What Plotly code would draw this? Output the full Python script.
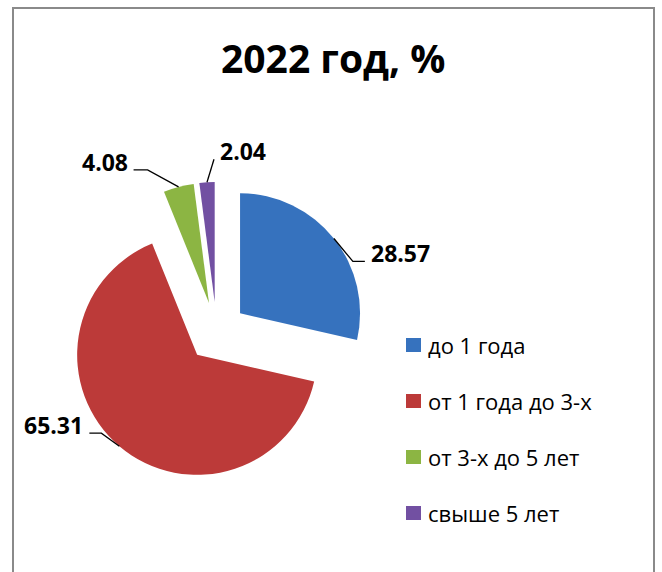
import math
import plotly.graph_objects as go

# ---- data ----
categories = ["до 1 года", "от 1 года до 3-х", "от 3-х до 5 лет", "свыше 5 лет"]
values = [28.57, 65.31, 4.08, 2.04]
value_labels = ["28.57", "65.31", "4.08", "2.04"]
title_text = "2022 год, %"

# ---- styles / layout ----
colors = ["#3672BE", "#BC3A39", "#8CB543", "#7250A2"]
W, H = 662, 572
CX, CY = 216.6, 332.0      # pie centre in page pixels
R = 120.0                  # slice radius in pixels
PULL = 0.25
HALF = R * (1 + PULL)

def px(x):
    return x / W

def py(y):
    return 1 - y / H

fig = go.Figure()
fig.add_trace(go.Pie(
    labels=categories,
    values=values,
    sort=False,
    direction="clockwise",
    rotation=0,
    pull=[PULL] * len(values),
    marker=dict(colors=colors, line=dict(width=0)),
    textinfo="none",
    hoverinfo="label+value",
    showlegend=False,
    domain=dict(x=[px(CX - HALF), px(CX + HALF)], y=[py(CY + HALF), py(CY - HALF)]),
))

# leader-line geometry (layout offsets per label): elbow dx, dy, horizontal length, text side
label_layout = [
    (19, 23, 12, "left"),
    (-18, -13, -12, "right"),
    (-31, -17, -14, "right"),
    (7, -23, 0, "left"),
]

shapes = []
annotations = []
total = sum(values)
cum = 0.0
for v, lab, (edx, edy, hl, side) in zip(values, value_labels, label_layout):
    mid = (cum + v / 2) / total * 2 * math.pi
    cum += v
    dx, dy = math.sin(mid), -math.cos(mid)
    # pulled slice centre
    sx, sy = CX + dx * R * PULL, CY + dy * R * PULL
    ax, ay = sx + dx * R, sy + dy * R
    ex, ey = ax + edx, ay + edy
    hx, hy = ex + hl, ey
    path = f"M {px(ax)} {py(ay)} L {px(ex)} {py(ey)} L {px(hx)} {py(hy)}"
    shapes.append(dict(type="path", xref="paper", yref="paper", path=path,
                       line=dict(color="black", width=1.3)))
    if side == "left":
        tx, xa = hx + 4, "left"
    else:
        tx, xa = hx - 4, "right"
    annotations.append(dict(x=px(tx), y=py(hy - 8), xref="paper", yref="paper",
                            text=f"<b>{lab}</b>", showarrow=False, xanchor=xa, yanchor="middle",
                            font=dict(family="Open Sans", size=23, color="black")))

# manual legend
LX, LY0, LDY = 406, 345, 56
for i, (cat, col) in enumerate(zip(categories, colors)):
    y = LY0 + i * LDY
    shapes.append(dict(type="rect", xref="paper", yref="paper",
                       x0=px(LX), x1=px(LX + 15), y0=py(y + 7), y1=py(y - 7),
                       fillcolor=col, line=dict(width=0)))
    annotations.append(dict(x=px(LX + 20), y=py(y), xref="paper", yref="paper",
                            text=cat, showarrow=False, xanchor="left", yanchor="middle",
                            font=dict(family="Open Sans", size=22, color="black")))

# title
annotations.append(dict(x=px(333), y=py(57), xref="paper", yref="paper",
                        text=f"<b>{title_text}</b>", showarrow=False,
                        xanchor="center", yanchor="middle",
                        font=dict(family="Open Sans", size=39, color="black")))

# chart border
shapes.append(dict(type="rect", xref="paper", yref="paper",
                   x0=px(13), x1=px(654), y0=-0.1, y1=py(8),
                   line=dict(color="#8A8A8A", width=2), fillcolor="rgba(0,0,0,0)"))

fig.update_layout(
    width=W, height=H,
    margin=dict(l=0, r=0, t=0, b=0),
    paper_bgcolor="white",
    plot_bgcolor="white",
    shapes=shapes,
    annotations=annotations,
)

fig.write_html("out.html")
